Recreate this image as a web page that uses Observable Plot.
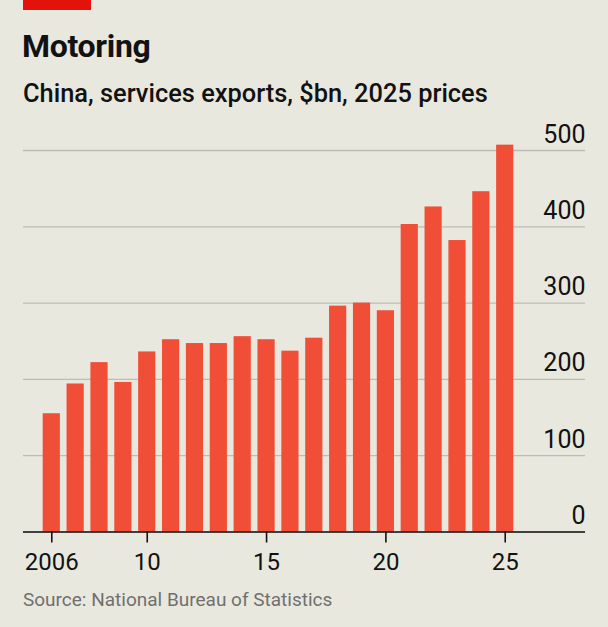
<!DOCTYPE html>
<html>
<head>
<meta charset="utf-8">
<script src="https://cdn.jsdelivr.net/npm/d3@7"></script>
<script src="https://cdn.jsdelivr.net/npm/@observablehq/plot@0.6"></script>
<style>
  html, body { margin: 0; padding: 0; background: #e9e8de; }
  #wrap { position: relative; width: 608px; height: 627px; background: #e9e8de; font-family: Roboto, "Noto Sans", sans-serif; color: #121212; overflow: hidden; }
  #flag { position: absolute; left: 23px; top: 0; width: 68px; height: 10px; background: #e3120b; }
  #title { position: absolute; left: 22px; top: 26px; font-size: 32px; font-weight: 700; letter-spacing: -0.3px; line-height: 40px; margin: 0; }
  #subtitle { position: absolute; left: 23px; top: 78px; font-size: 25.4px; font-weight: 500; line-height: 30px; margin: 0; }
  #chart { position: absolute; left: 0; top: 118px; }
  #source { position: absolute; left: 23px; top: 588px; font-size: 19px; color: #707070; line-height: 24px; }
</style>
</head>
<body>
<div id="wrap">
  <div id="flag"></div>
  <div id="title">Motoring</div>
  <div id="subtitle">China, services exports, $bn, 2025 prices</div>
  <div id="chart"></div>
  <div id="source">Source: National Bureau of Statistics</div>
</div>
<script>
// Services exports, $bn at 2025 prices, 2006–2025
const years = [2006, 2007, 2008, 2009, 2010, 2011, 2012, 2013, 2014, 2015,
               2016, 2017, 2018, 2019, 2020, 2021, 2022, 2023, 2024, 2025];
const exportsBn = [155, 194, 222, 196, 236, 252, 247, 247, 256, 252,
                   237, 254, 296, 300, 290, 403, 426, 382, 446, 507];
const yTicks = [0, 100, 200, 300, 400, 500];
const xTicks = [2006, 2010, 2015, 2020, 2025];
const xTickLabels = ["2006", "10", "15", "20", "25"];

const data = years.map((year, i) => ({year, value: exportsBn[i]}));

const chart = Plot.plot({
  width: 608,
  height: 470,
  marginLeft: 23,
  marginRight: 23,
  marginTop: 32,
  marginBottom: 56.5,
  style: {background: "transparent", fontFamily: "Roboto, 'Noto Sans', sans-serif", color: "#121212"},
  x: {type: "band", domain: years, range: [36, 520], padding: 0.28, round: false},
  y: {domain: [0, 500]},
  marks: [
    Plot.gridY(yTicks, {stroke: "#bdbcb4", strokeOpacity: 1, strokeWidth: 1.3}),
    Plot.barY(data, {x: "year", y: "value", fill: "#f04e37"}),
    Plot.ruleY([0], {stroke: "#121212", strokeWidth: 1.6}),
    Plot.axisY(yTicks, {
      anchor: "right", tickSize: 0, tickPadding: 0, textAnchor: "end",
      dy: -16, fontSize: 25, fill: "#121212", label: null
    }),
    Plot.axisX(xTicks, {
      anchor: "bottom", tickSize: 11, tickPadding: 10, strokeWidth: 1.6,
      stroke: "#121212", fontSize: 24, fill: "#121212",
      tickFormat: (d) => xTickLabels[xTicks.indexOf(d)], label: null
    })
  ]
});
document.getElementById("chart").appendChild(chart);
</script>
</body>
</html>
